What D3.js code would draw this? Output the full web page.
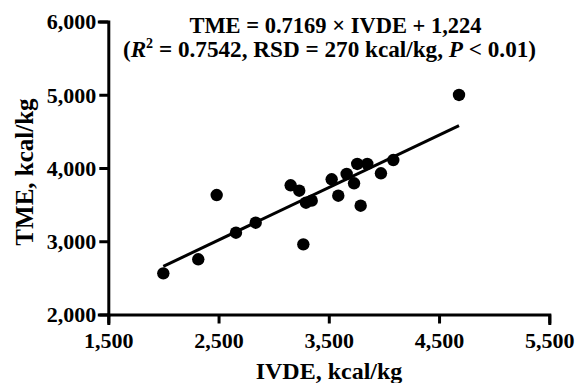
<!DOCTYPE html>
<html>
<head>
<meta charset="utf-8">
<script src="https://cdn.jsdelivr.net/npm/d3@7"></script>
<style>
  html, body { margin: 0; padding: 0; background: #fff; }
  svg { display: block; }
  text { font-family: "Liberation Serif", "Times New Roman", serif; font-weight: bold; fill: #000; }
</style>
</head>
<body>
<div id="chart"></div>
<script>
// ---- data ----
const ivde = [1999, 2316, 2483, 2658, 2837, 3154, 3232, 3269, 3293, 3345, 3526, 3586, 3662, 3729, 3758, 3789, 3849, 3973, 4085, 4681];
const tme  = [2562, 2754, 3631, 3117, 3253, 3764, 3690, 2958, 3526, 3554, 3846, 3622, 3918, 3791, 4055, 3485, 4055, 3928, 4109, 4997];
const fitSlope = 0.7169;
const fitIntercept = 1224;
const xTicks = [1500, 2500, 3500, 4500, 5500];
const yTicks = [2000, 3000, 4000, 5000, 6000];
const titleLine1 = "TME = 0.7169 × IVDE + 1,224";
const xTitle = "IVDE, kcal/kg";
const yTitle = "TME, kcal/kg";

const W = 577, H = 383;
const svg = d3.select("#chart").append("svg").attr("width", W).attr("height", H);

const x = d3.scaleLinear().domain([1500, 5500]).range([108.3, 549.3]);
const y = d3.scaleLinear().domain([2000, 6000]).range([314.5, 21.5]);
const fmt = d3.format(",");

// axes
const xAxis = svg.append("g").attr("transform", `translate(0,${y(2000)})`)
  .call(d3.axisBottom(x).tickValues(xTicks).tickFormat(fmt).tickSize(9).tickPadding(7));
const yAxis = svg.append("g").attr("transform", `translate(${x(1500)},0)`)
  .call(d3.axisLeft(y).tickValues(yTicks).tickFormat(fmt).tickSize(9).tickPadding(3));
[xAxis, yAxis].forEach(g => {
  g.select(".domain").attr("stroke", "#000").attr("stroke-width", 3).attr("stroke-linecap", "square");
  g.selectAll(".tick line").attr("stroke", "#000").attr("stroke-width", 3);
  g.selectAll(".tick text").attr("font-family", "Liberation Serif, serif").attr("font-weight", "bold")
    .attr("font-size", 22).attr("fill", "#000");
});
xAxis.selectAll(".tick text").attr("dy", "0.8em");
yAxis.selectAll(".tick text").attr("dy", "0.34em");

// regression line
const xr = d3.extent(ivde);
const fitPts = xr.map(v => [v, fitSlope * v + fitIntercept]);
svg.append("path")
  .attr("d", d3.line().x(d => x(d[0])).y(d => y(d[1]))(fitPts))
  .attr("stroke", "#000").attr("stroke-width", 3).attr("fill", "none");

// points
svg.append("g").selectAll("circle").data(ivde.map((v, i) => [v, tme[i]])).join("circle")
  .attr("cx", d => x(d[0])).attr("cy", d => y(d[1])).attr("r", 6.2).attr("fill", "#000");

// equation text
svg.append("text").attr("x", 335.5).attr("y", 33).attr("text-anchor", "middle")
  .attr("font-size", 22.5).text(titleLine1);
const t2 = svg.append("text").attr("x", 329.5).attr("y", 57).attr("text-anchor", "middle").attr("font-size", 23.2);
t2.append("tspan").text("(");
t2.append("tspan").attr("font-style", "italic").text("R");
t2.append("tspan").attr("font-size", 14).attr("dy", -9).text("2");
t2.append("tspan").attr("dy", 9).text(" = 0.7542, RSD = 270 kcal/kg, ");
t2.append("tspan").attr("font-style", "italic").text("P");
t2.append("tspan").text(" < 0.01)");

// axis titles
svg.append("text").attr("x", 329).attr("y", 379).attr("text-anchor", "middle")
  .attr("font-size", 24).text(xTitle);
svg.append("text").attr("transform", `translate(33,${(y(2000) + y(6000)) / 2 + 4}) rotate(-90)`)
  .attr("text-anchor", "middle").attr("font-size", 25).text(yTitle);
</script>
</body>
</html>
